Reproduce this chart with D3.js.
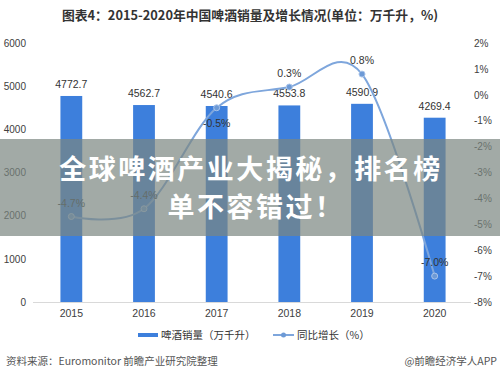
<!DOCTYPE html>
<html>
<head>
<meta charset="utf-8">
<script src="https://cdn.jsdelivr.net/npm/d3@7"></script>
<style>
  body { margin: 0; background: #fff; }
  svg { display: block; font-family: "Liberation Sans", "Noto Sans CJK SC", sans-serif; }
</style>
</head>
<body>
<div id="container"></div>
<script>
// data
var years = ["2015", "2016", "2017", "2018", "2019", "2020"];
var sales = [4772.7, 4562.7, 4540.6, 4553.8, 4590.9, 4269.4];      // 万千升
var growth = [-4.7, -4.4, -0.5, 0.3, 0.8, -7.0];                    // %
var leftTicks = [0, 1000, 2000, 3000, 4000, 5000, 6000];
var rightTicks = [-8, -7, -6, -5, -4, -3, -2, -1, 0, 1, 2];

var W = 500, H = 377;
var barColor = "#3d7fdc", lineColor = "#7ea6dc";
var cjk = "'Noto Sans CJK SC', sans-serif";

var svg = d3.select("#container").append("svg")
	.attr("width", W)
	.attr("height", H)

// title
svg.append("text")
	.attr("x", 250).attr("y", 20)
	.attr("text-anchor", "middle")
	.style("font-family", cjk)
	.style("font-size", "12.8px")
	.style("font-weight", "bold")
	.attr("fill", "#333")
	.text("图表4：2015-2020年中国啤酒销量及增长情况(单位：万千升，%)")

//define scales
var x = d3.scaleBand()
	.domain(years)
	.range([35, 471])
	.paddingInner(0.7)
	.paddingOuter(0.35);
var yL = d3.scaleLinear().domain([0, 6000]).range([302, 43]);
var yR = d3.scaleLinear().domain([-8, 2]).range([302, 43]);

// left axis
var axL = svg.append("g")
	.attr("transform", "translate(26,0)")
	.call(d3.axisLeft(yL).tickValues(leftTicks).tickSize(0).tickPadding(0)
		.tickFormat(d3.format("d")))
axL.select(".domain").remove();
axL.selectAll("text").style("font-size", "10px").attr("fill", "#404040");

// right axis
var axR = svg.append("g")
	.attr("transform", "translate(474,0)")
	.call(d3.axisRight(yR).tickValues(rightTicks).tickSize(0).tickPadding(0)
		.tickFormat(function(d) { return d + "%"; }))
axR.select(".domain").remove();
axR.selectAll("text").style("font-size", "10px").attr("fill", "#404040");

// bottom axis
var axB = svg.append("g")
	.attr("transform", "translate(0,302)")
	.call(d3.axisBottom(x).tickSize(0).tickPadding(8))
axB.select(".domain").attr("stroke", "#d9d9d9").attr("d", "M33,0.5H471");
axB.selectAll("text").style("font-size", "10.5px").attr("fill", "#404040");

// bars
svg.selectAll("rect.bar")
	.data(sales).enter()
	.append("rect")
	.attr("class", "bar")
	.attr("x", function(d, i) { return x(years[i]); })
	.attr("width", x.bandwidth())
	.attr("y", function(d) { return yL(d); })
	.attr("height", function(d) { return yL(0) - yL(d); })
	.attr("fill", barColor)

svg.selectAll("text.barlab")
	.data(sales).enter()
	.append("text")
	.attr("class", "barlab")
	.attr("x", function(d, i) { return x(years[i]) + x.bandwidth() / 2; })
	.attr("y", function(d) { return yL(d) - 8; })
	.attr("text-anchor", "middle")
	.style("font-size", "10.5px")
	.attr("fill", "#333")
	.text(function(d) { return d.toFixed(1); })

// growth line
var pts = growth.map(function(d, i) {
	return [x(years[i]) + x.bandwidth() / 2, yR(d)];
});
var lineFunction = d3.line().curve(d3.curveCardinal.tension(0));
svg.append("path")
	.attr("d", lineFunction(pts))
	.attr("fill", "none")
	.attr("stroke", lineColor)
	.attr("stroke-width", 2)

svg.selectAll("circle.pt")
	.data(pts).enter()
	.append("circle")
	.attr("cx", function(d) { return d[0]; })
	.attr("cy", function(d) { return d[1]; })
	.attr("r", 3)
	.attr("fill", "#6d9ad6")
	.attr("stroke", "#a9c4ea")
	.attr("stroke-width", 1)

svg.selectAll("text.ptlab")
	.data(growth).enter()
	.append("text")
	.attr("class", "ptlab")
	.attr("x", function(d, i) { return pts[i][0]; })
	.attr("y", function(d, i) {
		// 2017 label sits under its point
		return i == 2 ? pts[i][1] + 19 : pts[i][1] - 10;
	})
	.attr("text-anchor", "middle")
	.style("font-size", "10.5px")
	.attr("fill", "#333")
	.text(function(d) { return d.toFixed(1) + "%"; })

// legend
var leg = svg.append("g").attr("transform", "translate(0,335)");
leg.append("rect").attr("x", 138).attr("y", -2).attr("width", 20).attr("height", 4).attr("fill", barColor);
leg.append("text").attr("x", 161).attr("y", 4)
	.style("font-family", cjk).style("font-size", "10.5px").attr("fill", "#333")
	.text("啤酒销量（万千升）")
leg.append("line").attr("x1", 273).attr("x2", 294).attr("y1", 0).attr("y2", 0)
	.attr("stroke", lineColor).attr("stroke-width", 2)
leg.append("circle").attr("cx", 283.5).attr("cy", 0).attr("r", 2.5).attr("fill", "#6d9ad6")
leg.append("text").attr("x", 297).attr("y", 4)
	.style("font-family", cjk).style("font-size", "10.5px").attr("fill", "#333")
	.text("同比增长（%）")

// footer
svg.append("text").attr("x", 6).attr("y", 365)
	.style("font-family", cjk).style("font-size", "10.5px").attr("fill", "#555")
	.text("资料来源：Euromonitor 前瞻产业研究院整理")
svg.append("text").attr("x", 497).attr("y", 365).attr("text-anchor", "end")
	.style("font-family", cjk).style("font-size", "10.5px").attr("fill", "#555")
	.text("@前瞻经济学人APP")

// grey banner over the middle
svg.append("rect")
	.attr("x", 0).attr("y", 139)
	.attr("width", W).attr("height", 97)
	.attr("fill", "rgb(122,134,128)")
	.attr("fill-opacity", 0.7)

var banner = svg.append("g")
	.style("font-family", cjk)
	.style("font-size", "27px")
	.style("font-weight", "bold")
	.attr("fill", "#fff")
	.attr("text-anchor", "middle")
banner.append("text").attr("x", 251).attr("y", 179)
	.style("letter-spacing", "2.5px")
	.text("全球啤酒产业大揭秘，排名榜")
banner.append("text").attr("x", 256).attr("y", 217)
	.style("letter-spacing", "2.5px")
	.text("单不容错过！")
</script>
</body>
</html>
